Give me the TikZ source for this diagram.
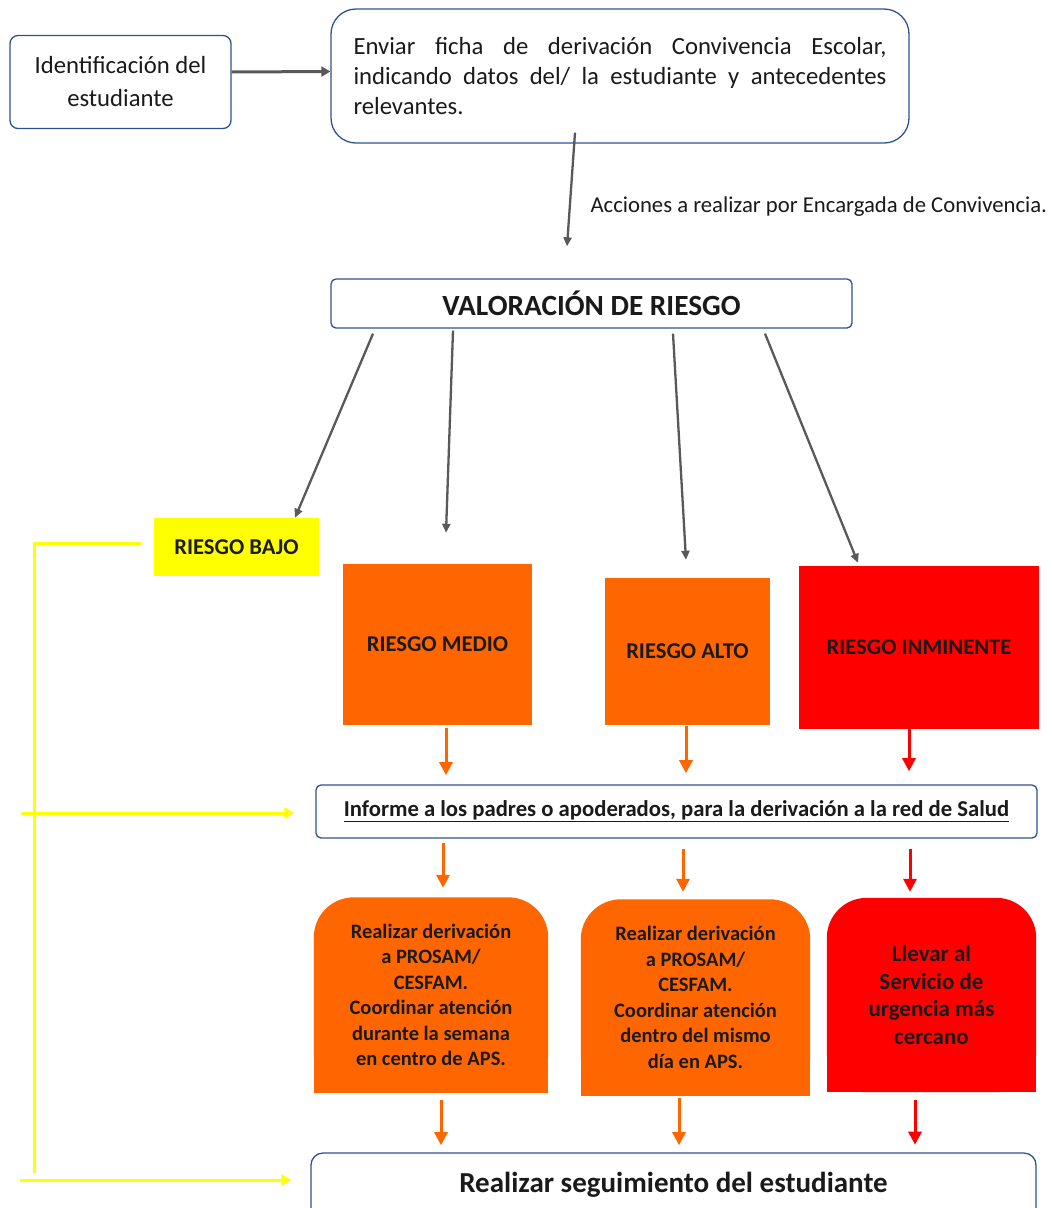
\documentclass[tikz,border=0pt]{standalone}
\usepackage{fontspec}
\setmainfont{Carlito}
\usetikzlibrary{arrows.meta,backgrounds}
\definecolor{borde}{HTML}{2F528F}
\definecolor{gris}{HTML}{595959}
\definecolor{naranja}{HTML}{FF6600}
\definecolor{rojo}{HTML}{FF0000}
\definecolor{amarillo}{HTML}{FFFF00}
\definecolor{texto}{HTML}{1A1A1A}
\tikzset{
  caja/.style={draw=borde,line width=1.3pt,fill=white,text=texto,align=center},
  riesgo/.style={text=texto,align=center,font=\fontsize{22.6}{26}\selectfont\bfseries},
  accion/.style={text=texto,align=center,font=\fontsize{20.5}{25.5}\selectfont\bfseries},
  flgris/.style={draw=gris,line width=2.3pt,-{Triangle[length=9pt,width=8pt]}},
  flnar/.style={draw=naranja,line width=3pt,-{Triangle[length=13pt,width=13pt]}},
  flroj/.style={draw=rojo,line width=3pt,-{Triangle[length=13pt,width=13pt]}},
  flama/.style={draw=amarillo,line width=3pt}
}
\begin{document}
\begin{tikzpicture}[x=1pt,y=-1pt]
    \useasboundingbox (0,0) rectangle (1052,1208);
    % cajas de arriba
    \node[caja,rounded corners=8pt,minimum width=221pt,minimum height=93pt,
      font=\fontsize{24.7}{33}\selectfont] (ident) at (120.5,82)
      {Identificación del\\estudiante};
    \node[caja,rounded corners=25pt,minimum width=578pt,minimum height=134pt,
      text width=533pt,align=justify,font=\fontsize{24.7}{30}\selectfont] (envio) at (620,76)
      {\hyphenchar\font=-1 \emergencystretch=3em
       Enviar ficha de derivación Convivencia Escolar,\linebreak indicando datos del/ la estudiante y antecedentes\linebreak relevantes.};
    \draw[gris,line width=3pt,-{Triangle[length=9pt,width=10pt]}] (ident.east) ++(0,-10) -- ([yshift=4.5pt]envio.west);
    \node[caja,rounded corners=5pt,minimum width=521pt,minimum height=49pt,
      font=\fontsize{29.3}{32}\selectfont\bfseries] (valor) at (591.5,303.5) {VALORACIÓN DE RIESGO};
    \draw[flgris] ([xshift=-45pt,yshift=11pt]envio.south) -- ([xshift=-24.5pt,yshift=32pt]valor.north);
    \node[anchor=west,text=texto,font=\fontsize{22.7}{25}\selectfont] (acciones) at (587,207)
      {Acciones a realizar por Encargada de Convivencia.};
    % niveles de riesgo
    \node[riesgo,fill=amarillo,minimum width=165pt,minimum height=58pt] (bajo) at (236.5,547) {RIESGO BAJO};
    \node[riesgo,fill=naranja,minimum width=189pt,minimum height=161pt] (medio) at (437.5,644.5) {RIESGO MEDIO};
    \node[riesgo,fill=naranja,minimum width=165pt,minimum height=147pt] (alto) at (687.5,651.5) {RIESGO ALTO};
    \node[riesgo,fill=rojo,minimum width=240pt,minimum height=163pt] (inmin) at (919,647.5) {RIESGO INMINENTE};
    \draw[flgris] ([xshift=-218.5pt,yshift=-5pt]valor.south) -- ([xshift=58.5pt]bajo.north);
    \draw[flgris] ([xshift=-138.5pt,yshift=-2pt]valor.south) -- ([xshift=8.5pt,yshift=31pt]medio.north);
    \draw[flgris] ([xshift=81.5pt,yshift=-5pt]valor.south) -- ([xshift=-1.5pt,yshift=18pt]alto.north);
    \draw[flgris] ([xshift=173.5pt,yshift=-5pt]valor.south) -- ([xshift=-61pt,yshift=3pt]inmin.north);
    % informe
    \node[caja,rounded corners=5pt,minimum width=721pt,minimum height=53pt,
      font=\fontsize{22.7}{25}\selectfont\bfseries] (informe) at (676.5,811.5)
      {\underline{Informe a los padres o apoderados, para la derivación a la red de Salud}};
    \draw[flnar] ([xshift=8.5pt,yshift=-3pt]medio.south) -- ++(0,47);
    \draw[flnar] ([xshift=-1.5pt,yshift=-1pt]alto.south) -- ++(0,47);
    \draw[flroj] ([xshift=-10pt]inmin.south) -- ++(0,42);
    % derivaciones
    \node[accion,minimum width=234pt,minimum height=195pt] (deriv1) at (431,995)
      {Realizar derivación\\a PROSAM/\\CESFAM.\\Coordinar atención\\durante la semana\\en centro de APS.};
    \node[accion,minimum width=229pt,minimum height=196pt] (deriv2) at (695.5,997.5)
      {Realizar derivación\\a PROSAM/\\CESFAM.\\Coordinar atención\\dentro del mismo\\día en APS.};
    \node[accion,minimum width=209pt,minimum height=194pt,
      font=\fontsize{23}{27.5}\selectfont\bfseries] (urgencia) at (931.5,995)
      {Llevar al\\Servicio de\\urgencia más\\cercano};
    \begin{scope}[on background layer]
      \fill[naranja,rounded corners=40pt] (deriv1.south west) rectangle (deriv1.north east);
      \fill[naranja] (deriv1.south west) rectangle (deriv1.east);
      \fill[naranja,rounded corners=40pt] (deriv2.south west) rectangle (deriv2.north east);
      \fill[naranja] (deriv2.south west) rectangle (deriv2.east);
      \fill[rojo,rounded corners=40pt] (urgencia.south west) rectangle (urgencia.north east);
      \fill[rojo] (urgencia.south west) rectangle (urgencia.east);
    \end{scope}
    \draw[flnar] ([xshift=-233.5pt,yshift=-4pt]informe.south) -- ([xshift=12pt,yshift=9.5pt]deriv1.north);
    \draw[flnar] ([xshift=6.5pt,yshift=-10pt]informe.south) -- ([xshift=-12.5pt,yshift=7.5pt]deriv2.north);
    \draw[flroj] ([xshift=233.5pt,yshift=-10pt]informe.south) -- ([xshift=-21.5pt,yshift=6pt]urgencia.north);
    % seguimiento
    \node[caja,rounded corners=12pt,minimum width=725pt,minimum height=70pt,
      font=\fontsize{29}{32}\selectfont\bfseries] (seguim) at (673.5,1188)
      {\raisebox{11pt}{Realizar seguimiento del estudiante}};
    \draw[flnar] ([xshift=10pt,yshift=-7.5pt]deriv1.south) -- ++(0,45);
    \draw[flnar] ([xshift=-16.5pt,yshift=-2.5pt]deriv2.south) -- ++(0,47);
    \draw[flroj] ([xshift=-16.5pt,yshift=-7.5pt]urgencia.south) -- ++(0,45);
    % riesgo bajo
    \draw[flama] ([xshift=-13pt,yshift=4pt]bajo.west) -- ++(-106,0) -- ++(0,630);
    \draw[flama,-{Triangle[length=10pt,width=11pt]}] ([xshift=-294pt,yshift=-1.5pt]informe.west) -- ([xshift=-21pt,yshift=-1.5pt]informe.west);
    \draw[flama,-{Triangle[length=10pt,width=11pt]}] ([xshift=-290pt,yshift=8pt]seguim.west) -- ([xshift=-19pt,yshift=8pt]seguim.west);
\end{tikzpicture}
\end{document}
